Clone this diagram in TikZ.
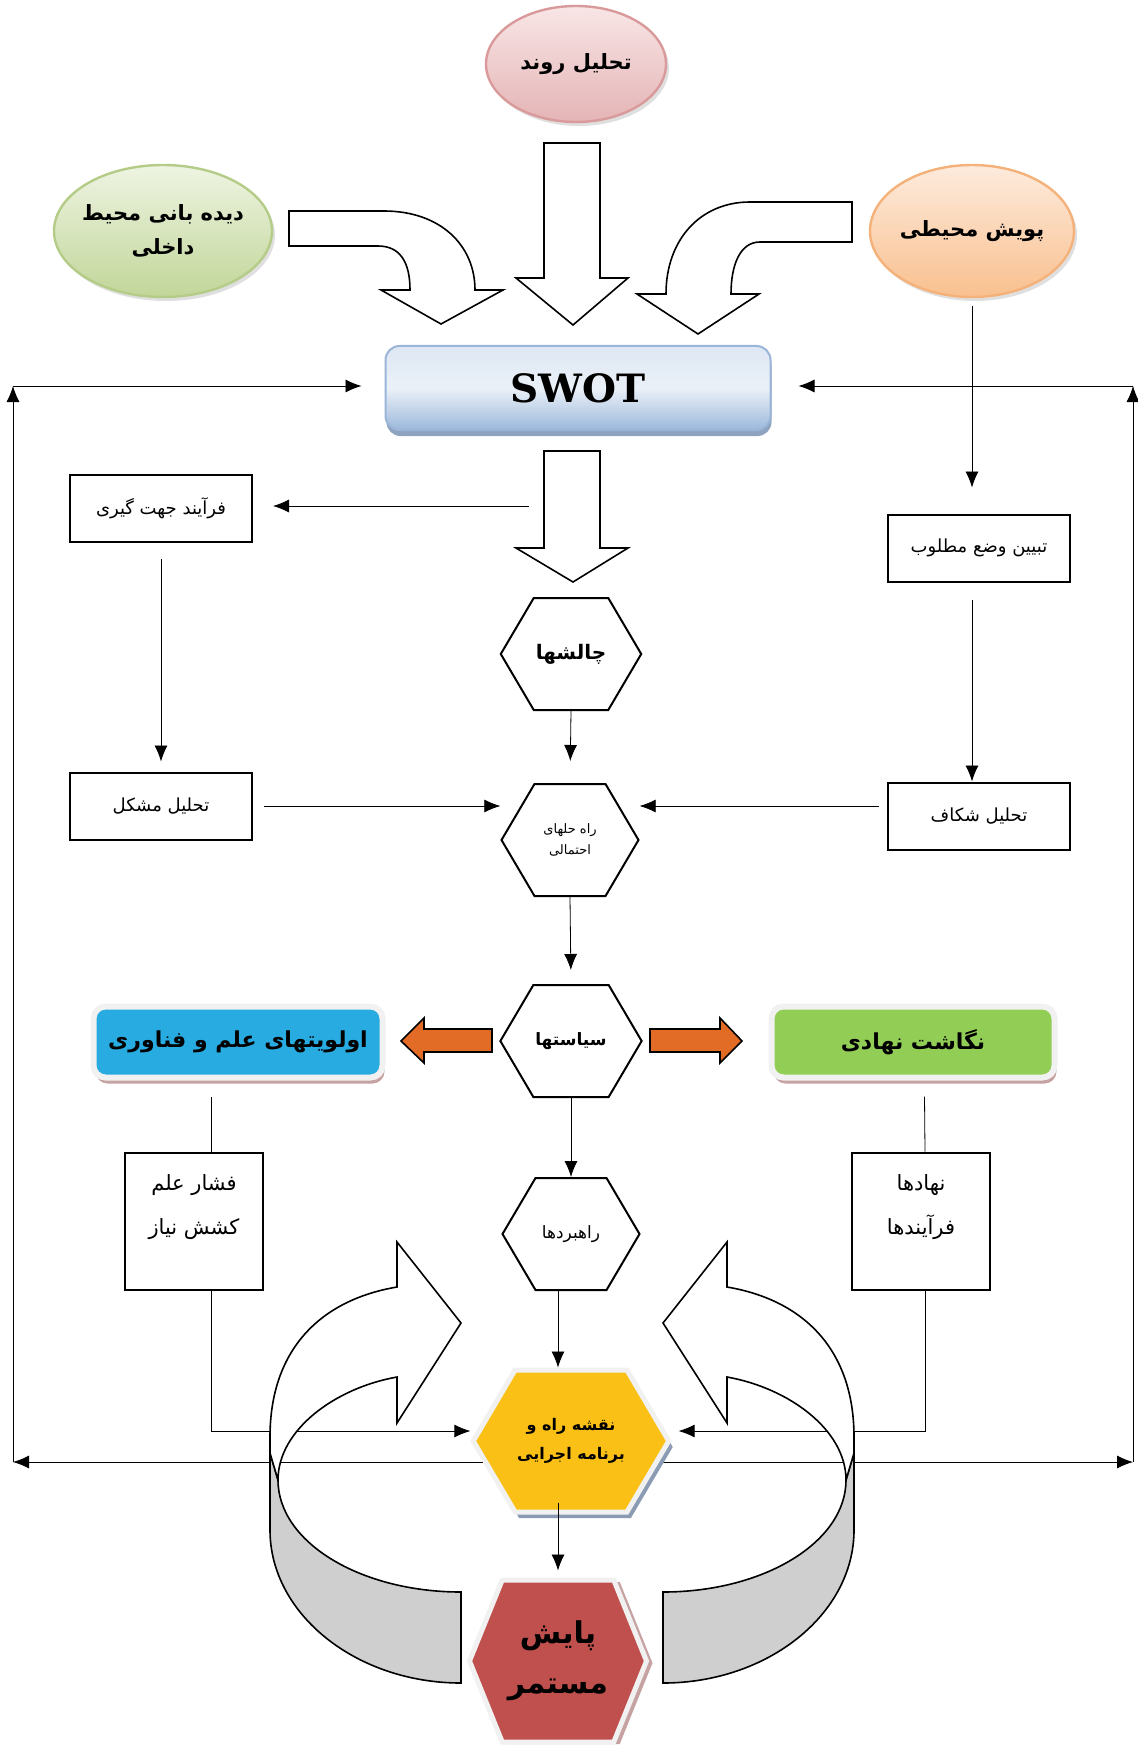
\documentclass[tikz,border=0pt]{standalone}
\usepackage{fontspec}
\usetikzlibrary{arrows.meta,shapes.geometric,shapes.symbols,shadows,calc}
\TeXXeTstate=1
\newfontfamily\parsi[Script=Arabic]{DejaVu Sans}
\newfontfamily\swotfont{DejaVu Serif}
\newcommand{\fatxt}[1]{\beginR #1\endR}

\definecolor{pinkTop}{HTML}{F8E6E6}
\definecolor{pinkBot}{HTML}{E5B4B6}
\definecolor{pinkLine}{HTML}{DA9A9B}
\definecolor{grnTop}{HTML}{EEF4E2}
\definecolor{grnBot}{HTML}{C2D699}
\definecolor{grnLine}{HTML}{B5CC88}
\definecolor{orTop}{HTML}{FDEBDD}
\definecolor{orBot}{HTML}{F9C08F}
\definecolor{orLine}{HTML}{F4B27A}
\definecolor{swotA}{HTML}{DDE7F3}
\definecolor{swotB}{HTML}{9CB8DB}
\definecolor{swotLine}{HTML}{9AB5D8}
\definecolor{swotShade}{HTML}{8EA3C0}
\definecolor{olavBlue}{HTML}{27ABE1}
\definecolor{negGreen}{HTML}{92CD55}
\definecolor{arrOrange}{HTML}{E26B26}
\definecolor{hexYellow}{HTML}{FAC016}
\definecolor{hexRed}{HTML}{C0504D}
\definecolor{backGray}{HTML}{CFCFCF}
\definecolor{glowWhite}{HTML}{F1F1F1}
\definecolor{brownShade}{HTML}{C6A2A2}
\definecolor{slateShade}{HTML}{8A9BB3}

\pgfdeclarelayer{back}
\pgfsetlayers{back,main}

\tikzset{
  bubble/.style={ellipse, line width=1.2pt, align=center, inner xsep=-2pt,
    font=\parsi\bfseries\fontsize{10.5}{17}\selectfont,
    drop shadow={shadow xshift=1.5pt, shadow yshift=-2pt, opacity=0.25}},
  box/.style={draw, line width=1pt, rectangle, minimum width=91pt, minimum height=33.5pt,
    align=center, font=\parsi\fontsize{9}{22}\selectfont},
  hexa/.style={draw, line width=1pt, signal, signal to=east and west,
    signal pointer angle=119, minimum width=68.5pt, minimum height=56pt,
    inner sep=1pt, align=center},
  glowbox/.style={rounded corners=6pt, draw=glowWhite, line width=3pt,
    minimum width=144.5pt, minimum height=35.5pt,
    font=\parsi\bfseries\fontsize{11}{15}\selectfont,
    drop shadow={shadow xshift=1pt, shadow yshift=-3pt, fill=brownShade, opacity=1}},
  blockarrow/.style={draw, fill=white, line width=0.8pt, line join=miter},
  sidearrow/.style={draw, fill=arrOrange, line width=0.8pt, line join=miter}
}

\begin{document}
\begin{tikzpicture}[x=0.5pt, y=-0.5pt, >={Latex[length=8pt,width=6.5pt]}, line width=1pt]
  \useasboundingbox (0,0) rectangle (1137,1749);

  % top circles
  \node[bubble, top color=pinkTop, bottom color=pinkBot, draw=pinkLine,
    minimum width=90pt, minimum height=58pt] (ravand) at (576,64) {\fatxt{تحلیل روند}};
  \node[bubble, top color=grnTop, bottom color=grnBot, draw=grnLine,
    minimum width=109pt, minimum height=66pt] (didehbani) at (163,231)
    {\fatxt{دیده بانی محیط}\\\fatxt{داخلی}};
  \node[bubble, top color=orTop, bottom color=orBot, draw=orLine,
    minimum width=102pt, minimum height=66pt] (pouyesh) at (972,231) {\fatxt{پویش محیطی}};

  % big arrows into SWOT
  \draw[blockarrow] (544,143) -- (600,143) -- (600,278) -- (628,278) -- (573,325)
    -- (516,278) -- (544,278) -- cycle;
  \draw[blockarrow] (289,211) -- (384,211) .. controls (440,211) and (475,245) .. (475,290)
    -- (503,290) -- (441,324) -- (381,290) -- (410,290)
    .. controls (410,262) and (400,246) .. (378,246) -- (289,246) -- cycle;
  \draw[blockarrow] (852,202) -- (750,202) .. controls (700,202) and (666,240) .. (666,294)
    -- (637,294) -- (698,334) -- (759,294) -- (731,294)
    .. controls (731,265) and (740,242) .. (760,242) -- (852,242) -- cycle;

  \node[draw=swotLine, line width=1pt, rounded corners=7pt, top color=swotA, bottom color=swotB,
    middle color=swotA!60!white, minimum width=192.5pt, minimum height=42pt,
    drop shadow={shadow xshift=0.5pt, shadow yshift=-3pt, fill=swotShade, opacity=1},
    font=\swotfont\bfseries\fontsize{19.5}{24}\selectfont] (swot) at (578,388) {SWOT};

  \draw[blockarrow] (544,451) -- (600,451) -- (600,548) -- (628,548) -- (573,582)
    -- (516,548) -- (544,548) -- cycle;
  \coordinate (split) at (529,506);

  % side boxes
  \node[box] (jahat) at (161,508) {\fatxt{فرآیند جهت گیری}};
  \node[box] (moshkel) at (161,806) {\fatxt{تحلیل مشکل}};
  \node[box] (motloub) at (979,548) {\fatxt{تبیین وضع مطلوب}};
  \node[box] (shekaf) at (979,816) {\fatxt{تحلیل شکاف}};

  % middle column
  \node[hexa, font=\parsi\bfseries\fontsize{10}{12}\selectfont] (chalesh) at (571,654) {\fatxt{چالشها}};
  \node[hexa, font=\parsi\fontsize{6.5}{10.5}\selectfont] (rahhal) at (570,840)
    {\fatxt{راه حلهای}\\\fatxt{احتمالی}};
  \node[hexa, font=\parsi\bfseries\fontsize{8.5}{12}\selectfont] (siasat) at (571,1041) {\fatxt{سیاستها}};
  \node[hexa, font=\parsi\fontsize{8.5}{12}\selectfont] (rahbord) at (571,1234) {\fatxt{راهبردها}};

  \node[glowbox, fill=olavBlue] (olaviat) at (238,1042) {\fatxt{اولویتهای علم و فناوری}};
  \node[glowbox, fill=negGreen, minimum width=141.5pt] (negasht) at (913,1042) {\fatxt{نگاشت نهادی}};

  \draw[sidearrow] (492,1029) -- (424,1029) -- (424,1018) -- (401,1041) -- (424,1063)
    -- (424,1052) -- (492,1052) -- cycle;
  \draw[sidearrow] (650,1029) -- (720,1029) -- (720,1018) -- (742,1041) -- (720,1063)
    -- (720,1052) -- (650,1052) -- cycle;

  \node[box, minimum width=69pt, minimum height=68.5pt, font=\parsi\fontsize{10.5}{22}\selectfont]
    (feshar) at (194,1221) {\fatxt{فشار علم}\\\fatxt{کشش نیاز}\\[-6pt]\mbox{}};
  \node[box, minimum width=69pt, minimum height=68.5pt, font=\parsi\fontsize{10.5}{22}\selectfont]
    (nahad) at (921,1221) {\fatxt{نهادها}\\\fatxt{فرآیندها}\\[-6pt]\mbox{}};

  \node[hexa, fill=hexYellow, draw=glowWhite, line width=2.5pt, minimum width=88pt, minimum height=71pt,
    drop shadow={shadow xshift=2pt, shadow yshift=-3pt, fill=slateShade, opacity=1},
    font=\parsi\bfseries\fontsize{8}{14.5}\selectfont] (naghsheh) at (571,1441)
    {\fatxt{نقشه راه و}\\\fatxt{برنامه اجرایی}};
  \node[hexa, fill=hexRed, draw=glowWhite, line width=2.5pt, signal pointer angle=136,
    minimum width=88.5pt, minimum height=81pt,
    drop shadow={shadow xshift=3pt, shadow yshift=-1pt, fill=brownShade, opacity=1},
    font=\parsi\bfseries\fontsize{15}{25}\selectfont] (payesh) at (558,1661)
    {\fatxt{پایش}\\\fatxt{مستمر}};

  % connectors
  \coordinate (bl) at (13,1462);
  \coordinate (tl) at (13,386);
  \coordinate (br) at (1133,1462);
  \coordinate (tr) at (1133,386);
  \begin{pgfonlayer}{back}
    \draw[->] ([yshift=-10.5pt]naghsheh.center) -- (bl);
    \draw[->] ([yshift=-10.5pt]naghsheh.center) -- (br);
    \draw[->] ([xshift=8.5pt]feshar.south) |- ([yshift=5pt]naghsheh.west);
    \draw[->, shorten >=3.5pt] ([xshift=2pt]nahad.south) |- ([yshift=5pt]naghsheh.east);
  \end{pgfonlayer}
  \draw[->] (bl) -- (tl);
  \draw[->] (tl) -- ($(swot.west |- tl)+(-23,0)$);
  \draw[->] (br) -- (tr);
  \draw[->] (tr) -- ($(swot.east |- tr)+(27,0)$);

  \draw[->, shorten <=4pt, shorten >=13pt] (pouyesh.south) -- (pouyesh.south |- motloub.north);
  \draw[->, shorten <=8.5pt] (pouyesh.south |- motloub.south) -- (pouyesh.south |- shekaf.north);
  \draw[->, shorten <=8pt, shorten >=5pt] (jahat.south) -- (moshkel.north);
  \draw[->, shorten >=10pt] (split) -- (jahat.east |- split);
  \draw[->, shorten <=5.5pt] (moshkel.east) -- (moshkel.east -| rahhal.west);
  \draw[->, shorten <=4pt] (shekaf.west |- moshkel.east) -- (rahhal.east |- moshkel.east);
  \draw[->, shorten >=11pt] (chalesh.south) -- (rahhal.north);
  \draw[->, shorten >=7pt] (rahhal.south) -- (siasat.north);
  \draw[->] (siasat.south) -- (rahbord.north);
  \draw ([xshift=8.5pt]feshar.north) -- ([xshift=-13.5pt,yshift=-8pt]olaviat.south);
  \draw ([xshift=2pt]nahad.north) -- ([xshift=5.75pt,yshift=-8pt]negasht.south);
  \draw[->] (rahbord.south -| payesh.north) -- (naghsheh.north -| payesh.north);
  \draw[->] ([yshift=6pt]naghsheh.south -| payesh.north) -- ([yshift=3.5pt]payesh.north);

  % turning arrows round the plan
  \foreach \flip in {1,-1}{
    \begin{scope}[xshift=281pt, xscale=\flip, xshift=-281pt]
      \filldraw[fill=backGray, line width=0.8pt] (270,1453) -- (270,1530)
        .. controls (270,1614) and (356,1683) .. (461,1683) -- (461,1592)
        .. controls (360,1592) and (278,1542) .. (278,1480) -- cycle;
      \filldraw[blockarrow] (397,1287) .. controls (320,1300) and (270,1350) .. (270,1437)
        -- (270,1453) -- (278,1480) .. controls (278,1430) and (335,1388) .. (397,1377)
        -- (397,1423) -- (461,1323) -- (397,1242) -- cycle;
    \end{scope}
  }
\end{tikzpicture}
\end{document}
